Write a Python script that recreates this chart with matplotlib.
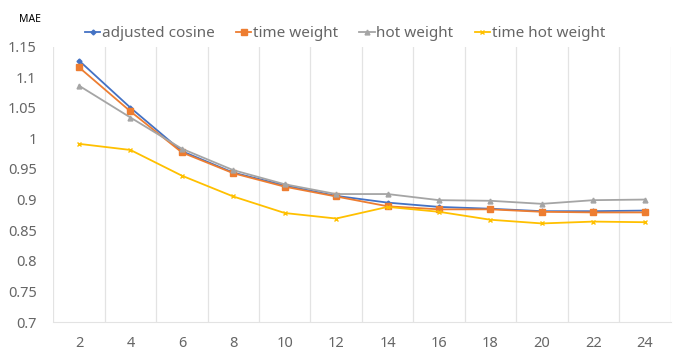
import numpy as np
import matplotlib
matplotlib.use("Agg")
import matplotlib.pyplot as plt

# neighbours count on x axis
k_values = ["2", "4", "6", "8", "10", "12", "14", "16", "18", "20", "22", "24"]

adjusted_cosine = [1.127, 1.050, 0.979, 0.944, 0.923, 0.906, 0.895, 0.888, 0.885, 0.881, 0.881, 0.882]
time_weight = [1.116, 1.044, 0.977, 0.943, 0.921, 0.905, 0.889, 0.884, 0.884, 0.880, 0.879, 0.879]
hot_weight = [1.086, 1.034, 0.983, 0.948, 0.925, 0.909, 0.909, 0.899, 0.898, 0.893, 0.899, 0.900]
time_hot_weight = [0.991, 0.981, 0.939, 0.905, 0.878, 0.869, 0.888, 0.880, 0.867, 0.861, 0.864, 0.863]

plt.rcParams['font.family'] = ['Noto Sans', 'DejaVu Sans']

fig = plt.figure(figsize=(6.73, 3.52), dpi=100)
ax = fig.add_axes([53.3 / 673, 30 / 352, (670.5 - 53.3) / 673, (322 - 46.5) / 352])

x = np.arange(len(k_values))
ax.plot(x, adjusted_cosine, color='#4472C4', lw=1.3, marker='D', ms=2.5, label='adjusted cosine')
ax.plot(x, time_weight, color='#ED7D31', lw=1.3, marker='s', ms=4, label='time weight')
ax.plot(x, hot_weight, color='#A5A5A5', lw=1.3, marker='^', ms=3.5, label='hot weight')
ax.plot(x, time_hot_weight, color='#FFC000', lw=1.3, marker='x', ms=3.5, label='time hot weight')

ax.set_xlim(-0.5, len(k_values) - 0.5)
ax.set_ylim(0.7, 1.15)
ax.set_xticks(x)
ax.set_xticklabels(k_values)
yt = np.arange(0.7, 1.151, 0.05)
ax.set_yticks(yt)
ax.set_yticklabels(['%g' % round(v, 2) for v in yt])

# category boundaries as vertical grid
for b in np.arange(-0.5, len(k_values), 1.0):
    ax.axvline(b, color='#e3e3e3', lw=0.9, zorder=0)

for s in ['top', 'right', 'left']:
    ax.spines[s].set_visible(False)
ax.spines['bottom'].set_color('#e3e3e3')
ax.tick_params(length=0, colors='#666666', labelsize=10.5)
ax.tick_params(axis='x', pad=10)
ax.tick_params(axis='y', pad=12)

fig.text(19 / 673, 1 - 19 / 352, 'MAE', fontsize=7.5, va='center', ha='left', color='black')

fig.legend(loc='center', bbox_to_anchor=(345 / 673, 1 - 33.5 / 352), ncol=4, frameon=False,
           fontsize=11, handlelength=1.0, handletextpad=0.1, columnspacing=1.4,
           labelcolor='#666666')

fig.savefig('out.png', dpi=100)
